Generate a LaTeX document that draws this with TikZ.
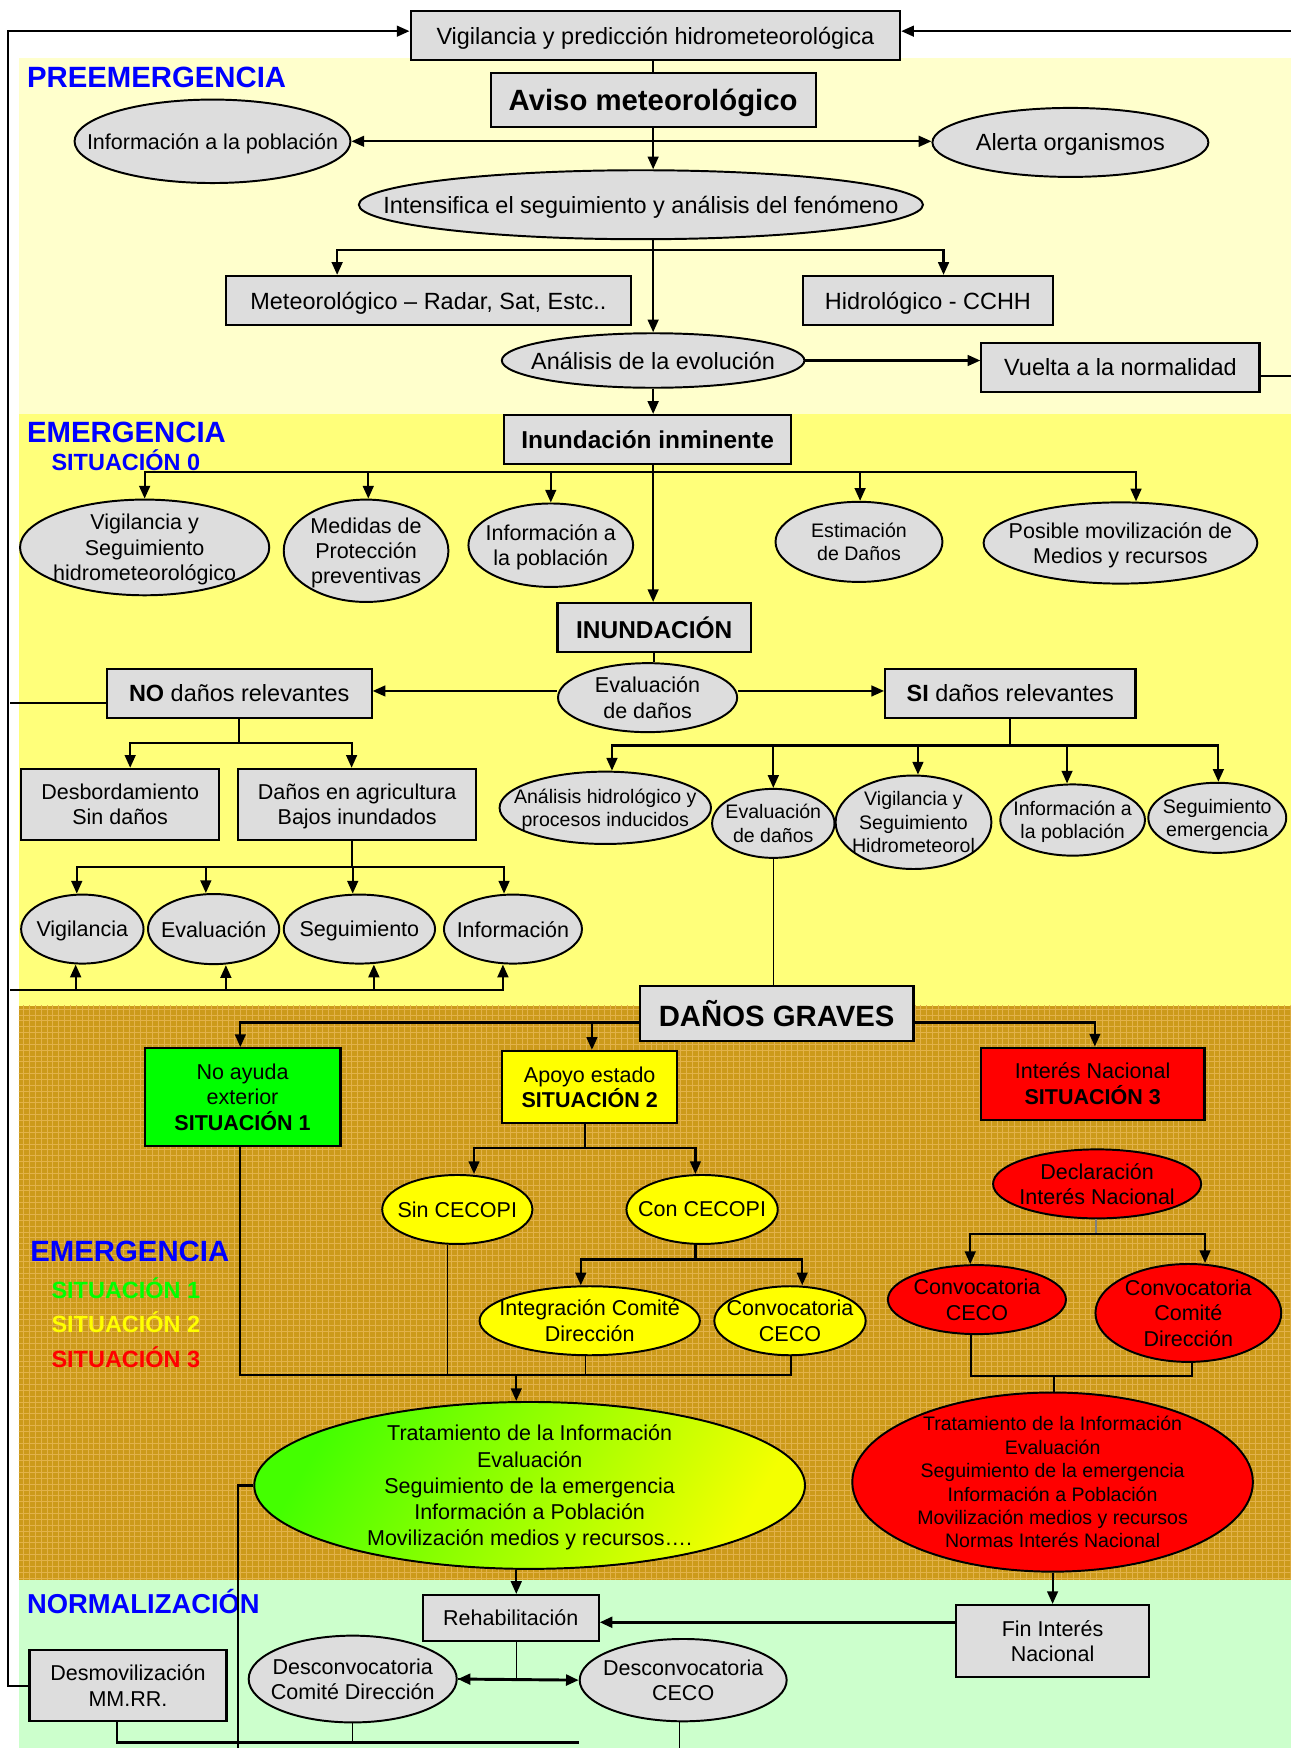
\documentclass[tikz,border=0pt]{standalone}
\usepackage{fontspec}
\setmainfont{Liberation Sans}
\usetikzlibrary{calc, positioning, arrows.meta, shapes.geometric, patterns}

\definecolor{preBg}{HTML}{FFFFCC}
\definecolor{emeBg}{HTML}{FFFF7A}
\definecolor{graveBg}{HTML}{CC9A1A}
\definecolor{graveLn}{HTML}{E2B24A}
\definecolor{norBg}{HTML}{CCFFCC}
\definecolor{boxgray}{HTML}{DDDDDD}
\definecolor{secblue}{HTML}{0000FF}
\definecolor{sitgreen}{HTML}{00FF00}
\definecolor{sityellow}{HTML}{FFFF00}
\definecolor{sitred}{HTML}{FF0000}
\definecolor{gradgreen}{HTML}{44FF00}
\definecolor{gradyellow}{HTML}{F4FF00}

\tikzset{
    wh/.style 2 args={minimum width=#1*0.02cm, minimum height=#2*0.02cm},
    box/.style={draw, line width=1.1pt, fill=boxgray, inner sep=1pt, align=center},
    ell/.style={ellipse, draw, line width=1pt, fill=boxgray, inner sep=0pt},
    ln/.style={line width=1.1pt},
    fine/.style={line width=0.6pt},
    arr/.style={ln, -{Triangle[length=6.5pt,width=5.5pt]}},
    arrs/.style={ln, {Triangle[length=6.5pt,width=5.5pt]}-{Triangle[length=6.5pt,width=5.5pt]}},
    sec/.style={anchor=base west, inner sep=0pt, text=secblue, font=\fontsize{15}{18}\selectfont\bfseries},
    sub/.style={anchor=base west, inner sep=0pt, font=\fontsize{12}{14}\selectfont\bfseries},
    fa/.style={align=center, text depth=0pt, font=\fontsize{12}{13.5}\selectfont},
    fb/.style={align=center, text depth=0pt, font=\fontsize{11}{13}\selectfont},
    fc/.style={align=center, text depth=0pt, font=\fontsize{10}{12}\selectfont},
    fbold/.style={align=center, text depth=0pt, font=\fontsize{12.5}{15}\selectfont\bfseries},
    fbig/.style={align=center, text depth=0pt, font=\fontsize{15}{18}\selectfont\bfseries}
}

\begin{document}
\begin{tikzpicture}[x=0.02cm, y=-0.02cm]
    \useasboundingbox (0,0) rectangle (1160,1571);

    % Add the coloured bands
    \fill[white] (0,0) rectangle (1160,1571);
    \fill[preBg] (17,52) rectangle (1160,372);
    \fill[emeBg] (17,372) rectangle (1160,904);
    \fill[graveBg] (17,904) rectangle (1160,1420);
    \fill[pattern=grid, pattern color=graveLn] (17,904) rectangle (1160,1420);
    \fill[norBg] (17,1420) rectangle (1160,1571);

    % Add the band titles
    \node[sec] (tPre) at (24,79) {PREEMERGENCIA};
    \node[sec] (tEme) at (24,398) {EMERGENCIA};
    \node[sub, text=secblue] (tSit0) at (46,423) {SITUACIÓN 0};
    \node[sec] (tEmeG) at (27,1134) {EMERGENCIA};
    \node[sub, text=sitgreen] (tSit1) at (46,1167) {SITUACIÓN 1};
    \node[sub, text=sityellow] (tSit2) at (46,1198) {SITUACIÓN 2};
    \node[sub, text=sitred] (tSit3) at (46,1229) {SITUACIÓN 3};
    \node[sec, font=\fontsize{14}{17}\selectfont\bfseries] (tNor) at (24,1450) {NORMALIZACIÓN};

    % Preemergencia
    \node[box, wh={440}{44}, fa] (vig) at (589,32) {Vigilancia y predicción hidrometeorológica};
    \node[box, wh={292}{49}, fbig] (aviso) at (587,90) {Aviso meteorológico};
    \node[ell, wh={248}{75}, label={[fb]center:Información a la población}] (infoP) at (191,127) {};
    \node[ell, wh={248}{62}, label={[fa]center:Alerta organismos}] (alerta) at (962,128) {};
    \node[ell, wh={507}{62}, label={[fa]center:Intensifica el seguimiento y análisis del fenómeno}] (intens) at (576,184) {};
    \node[box, wh={364}{44}, fa] (meteo) at (385,270) {Meteorológico – Radar, Sat, Estc..};
    \node[box, wh={225}{44}, fa] (hidro) at (834,270) {Hidrológico - CCHH};
    \node[ell, wh={272}{49}, label={[fa]center:Análisis de la evolución}] (anal) at (587,324) {};
    \node[box, wh={250}{44}, fa] (vuelta) at (1007,330) {Vuelta a la normalidad};

    \draw[ln] (aviso.north |- vig.south) -- (aviso.north);
    \draw[arrs] (infoP.east) -- (infoP.east -| alerta.west);
    \draw[arr] (aviso.south) -- (aviso.south |- intens.north);
    \coordinate (jMet) at (587,225);
    \draw[ln] (jMet |- intens.south) -- (jMet);
    \draw[arr] (jMet) -| ($(meteo.north)+(-82,0)$);
    \draw[arr] (jMet) -| ($(hidro.north)+(14,0)$);
    \draw[arr] (jMet) -- (anal.north);
    \draw[arr] (anal.east) -- (anal.east -| vuelta.west);
    \draw[arr] ($(vuelta.east)+(0,8)$) -- ++(45,0) |- ($(vig.east)+(0,-4)$);

    % Emergencia, situacion 0
    \node[box, wh={258}{44}, fbold] (inmin) at (582,395) {Inundación inminente};
    \draw[arr] (anal.south) -- (anal.south |- inmin.north);
    \coordinate (jSit0) at (587,424);
    \draw[ln] (jSit0 |- inmin.south) -- (jSit0);

    \node[ell, wh={224}{86}, label={[fb]center:Vigilancia y\\Seguimiento\\hidrometeorológico}] (vigS) at (130,492) {};
    \node[ell, wh={148}{92}, label={[fb]center:Medidas de\\Protección\\preventivas}] (medP) at (329,495) {};
    \node[ell, wh={148}{75}, label={[fb]center:Información a\\la población}] (infoA) at (495,490) {};
    \node[ell, wh={150}{72}, label={[fc]center:Estimación\\de Daños}] (estD) at (772,487) {};
    \node[ell, wh={246}{73}, label={[fb]center:Posible movilización de\\Medios y recursos}] (posM) at (1007,488) {};
    \foreach \n/\dx in {vigS/0, medP/2, infoA/0, estD/1, posM/14} {
            \draw[arr] (jSit0) -| ($(\n.north)+(\dx,0)$);
        }

    \node[box, wh={174}{44}, fbold] (inund) at (588,564) {INUNDACIÓN};
    \draw[arr] (jSit0) -- (jSit0 |- inund.north);
    \node[ell, wh={161}{62}, label={[fb]center:Evaluación\\de daños}] (evD) at (582,627) {};
    \draw[ln] (inund.south) -- (inund.south |- evD.north);
    \node[box, wh={238}{44}, fa] (noD) at (215,623) {\textbf{NO} daños relevantes};
    \node[box, wh={225}{44}, fa] (siD) at (908,623) {\textbf{SI} daños relevantes};
    \draw[arr] ($(evD.west)+(0,-6)$) -- ($(noD.east)+(0,-2)$);
    \draw[arr] ($(evD.east)+(0,-6)$) -- ($(siD.west)+(0,-2)$);

    % NO danos relevantes
    \coordinate (jNo) at (215,668);
    \draw[ln] (noD.south) -- (jNo);
    \node[box, wh={178}{64}, fb] (desb) at (108,723) {Desbordamiento\\Sin daños};
    \node[box, wh={214}{64}, fb] (agri) at (321,723) {Daños en agricultura\\Bajos inundados};
    \draw[arr] (jNo) -| ($(desb.north)+(9,0)$);
    \draw[arr] (jNo) -| ($(agri.north)+(-5,0)$);
    \coordinate (jAgri) at (316,779);
    \draw[ln] (jAgri |- agri.south) -- (jAgri);
    \node[ell, wh={110}{62}, label={[fb]center:Vigilancia}] (cVig) at (74,835) {};
    \node[ell, wh={118}{63}, label={[fb]center:Evaluación}] (cEva) at (192,835) {};
    \node[ell, wh={136}{62}, label={[fb]center:Seguimiento}] (cSeg) at (323,835) {};
    \node[ell, wh={124}{62}, label={[fb]center:Información}] (cInf) at (461,835) {};
    \foreach \n/\dx in {cVig/-5, cEva/-7, cSeg/-6, cInf/-8} {
            \draw[arr] (jAgri) -| ($(\n.north)+(\dx,0)$);
        }
    \coordinate (jLeft) at (9,890);
    \foreach \n/\dx in {cVig/-6, cEva/11, cSeg/13, cInf/-9} {
            \draw[arr] (jLeft) -| ($(\n.south)+(\dx,0)$);
        }

    % SI danos relevantes
    \coordinate (jSi) at (908,670);
    \draw[ln] (siD.south) -- (jSi);
    \node[ell, wh={190}{65}, label={[fc]center:Análisis hidrológico y\\procesos inducidos}] (anH) at (544,726) {};
    \node[ell, wh={110}{62}, label={[fc]center:Evaluación\\de daños}] (evS) at (695,740) {};
    \node[ell, wh={140}{84}, label={[fc]center:Vigilancia y\\Seguimiento\\Hidrometeorol}] (vigH) at (821,739) {};
    \node[ell, wh={130}{64}, label={[fc]center:Información a\\la población}] (infoS) at (964,737) {};
    \node[ell, wh={124}{63}, label={[fc]center:Seguimiento\\emergencia}] (segE) at (1094,735) {};
    \foreach \n/\dx in {anH/6, evS/0, vigH/4, infoS/-5, segE/1} {
            \draw[arr] (jSi) -| ($(\n.north)+(\dx,0)$);
        }

    % Danos graves, situaciones 1, 2 and 3
    \node[box, wh={246}{49}, fbig] (danos) at (698,911) {DAÑOS GRAVES};
    \draw[fine] (evS.south) -- (evS.south |- danos.north);
    \node[box, fill=sitgreen, wh={176}{88}, fb] (sit1) at (218,986) {No ayuda\\exterior\\\textbf{SITUACIÓN 1}};
    \node[box, fill=sityellow, wh={157}{65}, fb] (sit2) at (530,977) {Apoyo estado\\\textbf{SITUACIÓN 2}};
    \node[box, fill=sitred, wh={201}{65}, fb] (sit3) at (982,974) {Interés Nacional\\\textbf{SITUACIÓN 3}};
    \draw[arr] ($(danos.west)+(0,8)$) -| ($(sit1.north)+(-2,0)$);
    \draw[arr] ($(danos.west)+(0,8)$) -| ($(sit2.north)+(2,0)$);
    \draw[arr] ($(danos.east)+(0,8)$) -| ($(sit3.north)+(2,0)$);

    \coordinate (jSit2) at (526,1032);
    \draw[ln] (jSit2 |- sit2.south) -- (jSit2);
    \node[ell, fill=sityellow, wh={135}{62}, label={[fb]center:Sin CECOPI}] (sinC) at (411,1087) {};
    \node[ell, fill=sityellow, wh={136}{62}, label={[fb]center:Con CECOPI}] (conC) at (631,1087) {};
    \draw[arr] (jSit2) -| ($(sinC.north)+(15,0)$);
    \draw[arr] (jSit2) -| ($(conC.north)+(-6,0)$);
    \coordinate (jCon) at (625,1132);
    \draw[ln] (jCon |- conC.south) -- (jCon);
    \node[ell, fill=sityellow, wh={198}{62}, label={[fb]center:Integración Comité\\Dirección}] (integ) at (530,1187) {};
    \node[ell, fill=sityellow, wh={136}{62}, label={[fb]center:Convocatoria\\CECO}] (convY) at (710,1187) {};
    \draw[arr] (jCon) -| ($(integ.north)+(-8,0)$);
    \draw[arr] (jCon) -| ($(convY.north)+(11,0)$);

    \coordinate (jTrat) at (464,1236);
    \draw[ln] ($(sit1.south)+(-2,0)$) |- (jTrat);
    \draw[ln] ($(convY.south)+(1,0)$) |- (jTrat);
    \draw[fine] ($(sinC.south)+(-9,0)$) |- (jTrat);
    \draw[fine] ($(integ.south)+(-4,0)$) |- (jTrat);
    \node[ell, left color=gradgreen, right color=gradyellow, shading angle=60, wh={495}{150},
        label={[fb, font=\fontsize{11}{13.4}\selectfont]center:Tratamiento de la Información\\Evaluación\\Seguimiento de la emergencia\\Información a Población\\Movilización medios y recursos….}] (tratG) at (476,1335) {};
    \draw[arr] (jTrat) -- (jTrat |- tratG.north);
    \draw[ln] (tratG.west) -| ($(tratG.west)+(-14,250)$);

    \draw[fine] ($(sit3.south)+(2,0)$) -- ($(sit3.south)+(2,0)$ |- decl.north);
    \node[ell, fill=sitred, wh={187}{62}, label={[fb]center:Declaración\\Interés Nacional}] (decl) at (986,1064) {};
    \coordinate (jDecl) at (985,1109);
    \draw[fine, gray] (jDecl |- decl.south) -- (jDecl);
    \node[ell, fill=sitred, wh={160}{62}, label={[fb]center:Convocatoria\\CECO}] (convR) at (878,1168) {};
    \node[ell, fill=sitred, wh={167}{88}, label={[fb]center:Convocatoria\\Comité\\Dirección}] (convD) at (1068,1180) {};
    \draw[arr] (jDecl) -| ($(convR.north)+(-6,0)$);
    \draw[arr] (jDecl) -| ($(convD.north)+(15,0)$);
    \coordinate (jTratR) at (947,1237);
    \draw[ln] ($(convR.south)+(-5,0)$) |- (jTratR);
    \draw[ln] ($(convD.south)+(3,0)$) |- (jTratR);
    \node[ell, fill=sitred, wh={360}{161}, label={[fc]center:Tratamiento de la Información\\Evaluación\\Seguimiento de la emergencia\\Información a Población\\Movilización medios y recursos\\Normas Interés Nacional}] (tratR) at (946,1332) {};
    \draw[ln] (jTratR) -- (jTratR |- tratR.north);

    % Normalizacion
    \node[box, wh={158}{41}, fb] (rehab) at (459,1454) {Rehabilitación};
    \draw[arr] ($(tratG.south)+(-12,0)$) -- ($(rehab.north)+(5,0)$);
    \node[box, wh={173}{65}, fb] (finI) at (946,1475) {Fin Interés\\Nacional};
    \draw[arr] (tratR.south) -- (tratR.south |- finI.north);
    \draw[arr, line width=1.5pt] ($(finI.west)+(0,-17)$) -- ($(rehab.east)+(0,4)$);
    \node[ell, wh={187}{78}, label={[fb]center:Desconvocatoria\\Comité Dirección}] (dcC) at (317,1509) {};
    \node[ell, wh={186}{74}, label={[fb]center:Desconvocatoria\\CECO}] (dcE) at (614,1510) {};
    \draw[arrs, line width=1.5pt] (dcC.east) -- (dcE.west);
    \draw[fine] ($(rehab.south)+(5,0)$) |- (dcC.east);
    \node[box, wh={177}{64}, fb] (desmov) at (115,1515) {Desmovilización\\MM.RR.};

    % Add the return lines on the left
    \draw[arr] (desmov.west) -- ++(-18,0) |- ($(vig.west)+(0,-4)$);
    \draw[ln] ($(noD.west)+(0,9)$) -- ($(noD.west -| jLeft)+(0,9)$);
    \coordinate (bEnd) at (520,1566);
    \draw[ln] ($(desmov.south)+(-10,0)$) |- (bEnd);
    \draw[fine] (dcC.south) -- (dcC.south |- bEnd);
    \draw[fine] ($(dcE.south)+(-3,0)$) -- ($(dcE.south)+(-3,40)$);

\end{tikzpicture}
\end{document}
